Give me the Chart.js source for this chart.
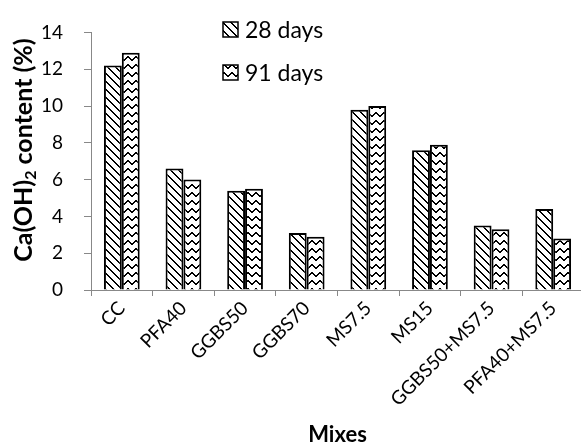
<!DOCTYPE html>
<html>
<head>
<meta charset="utf-8">
<script src="https://cdn.jsdelivr.net/npm/chart.js@4"></script>
<style>
  html, body { margin: 0; padding: 0; background: #fff; overflow: hidden; }
  #wrap { width: 588px; height: 448px; }
</style>
</head>
<body>
<div id="wrap"><canvas id="chOH" width="588" height="448"></canvas></div>
<script>
const mixes = ['CC', 'PFA40', 'GGBS50', 'GGBS70', 'MS7.5', 'MS15', 'GGBS50+MS7.5', 'PFA40+MS7.5'];
const days28 = [12.2, 6.6, 5.4, 3.1, 9.8, 7.6, 3.5, 4.4];
const days91 = [12.9, 6.0, 5.5, 2.9, 10.0, 7.9, 3.3, 2.8];
const seriesNames = ['28 days', '91 days'];
const yTicks = [0, 2, 4, 6, 8, 10, 12, 14];

const FONT = 'Lato, "Open Sans", sans-serif';

// 8x8 hatch tiles, black on white
function makePattern(isInk) {
    const c = document.createElement('canvas');
    c.width = 8; c.height = 8;
    const g = c.getContext('2d');
    g.fillStyle = '#fff';
    g.fillRect(0, 0, 8, 8);
    g.fillStyle = '#000';
    for (let y = 0; y < 8; y++) {
        for (let x = 0; x < 8; x++) {
            if (isInk(x, y)) g.fillRect(x, y, 1, 1);
        }
    }
    return g.createPattern(c, 'repeat');
}

// wide downward diagonal
const diagPattern = makePattern((x, y) => {
    const d = ((x - y) % 8 + 8) % 8;
    return d === 0 || d === 1;
});
// zig zag
const zigPattern = makePattern((x, y) => {
    const v = x < 4 ? x : 7 - x;
    return y === v || y === (v + 1) % 8;
});

// legend drawn inside the plot area
const boxLegend = {
    id: 'boxLegend',
    afterDraw(chart) {
        const ctx = chart.ctx;
        const items = chart.data.datasets;
        ctx.save();
        items.forEach((ds, i) => {
            const bx = 223, by = 22 + i * 43, s = 15;
            ctx.fillStyle = ds.backgroundColor;
            ctx.fillRect(bx, by, s, s);
            ctx.lineWidth = 1.5;
            ctx.strokeStyle = '#000';
            ctx.strokeRect(bx, by, s, s);
            ctx.fillStyle = '#000';
            ctx.font = '23px ' + FONT;
            ctx.textBaseline = 'middle';
            ctx.textAlign = 'left';
            ctx.fillText(ds.label, bx + 22, by + s / 2 + 1);
        });
        ctx.restore();
    }
};

// y axis title with subscript 2
const yTitle = {
    id: 'yTitle',
    afterDraw(chart) {
        const ctx = chart.ctx;
        const big = 'bold 25px ' + FONT;
        const small = 'bold 16px ' + FONT;
        const parts = [['Ca(OH)', big, 0], ['2', small, 7], [' content (%)', big, 0]];
        ctx.save();
        let total = 0;
        parts.forEach(p => { ctx.font = p[1]; total += ctx.measureText(p[0]).width; });
        ctx.translate(24, 150);
        ctx.rotate(-Math.PI / 2);
        ctx.fillStyle = '#000';
        ctx.textBaseline = 'middle';
        ctx.textAlign = 'left';
        let x = -total / 2;
        parts.forEach(p => {
            ctx.font = p[1];
            ctx.fillText(p[0], x, p[2]);
            x += ctx.measureText(p[0]).width;
        });
        ctx.restore();
    }
};

new Chart(document.getElementById('chOH'), {
    type: 'bar',
    data: {
        labels: mixes,
        datasets: [
            { label: seriesNames[0], data: days28, backgroundColor: diagPattern, borderColor: '#000', borderWidth: 2 },
            { label: seriesNames[1], data: days91, backgroundColor: zigPattern, borderColor: '#000', borderWidth: 2 }
        ]
    },
    options: {
        responsive: false,
        animation: false,
        layout: { padding: { left: 0, right: 4, top: 19, bottom: 0 } },
        datasets: { bar: { categoryPercentage: 0.58, barPercentage: 1.0 } },
        plugins: {
            legend: { display: false },
            tooltip: { enabled: false }
        },
        scales: {
            x: {
                grid: { display: true, drawOnChartArea: false, offset: true, tickLength: 6, color: '#888' },
                border: { color: '#888', width: 1 },
                ticks: { color: '#000', font: { size: 19, family: FONT }, maxRotation: 45, minRotation: 45, padding: 1 },
                title: { display: true, text: 'Mixes', color: '#000', font: { size: 22, weight: 'bold', family: FONT }, padding: { top: 0, bottom: 0 } },
                afterFit: s => { s.height = 158; }
            },
            y: {
                min: 0,
                max: 14,
                afterBuildTicks: s => { s.ticks = yTicks.map(v => ({ value: v })); },
                grid: { display: true, drawOnChartArea: false, tickLength: 7, color: '#888' },
                border: { color: '#888', width: 1 },
                ticks: { color: '#000', font: { size: 19, family: FONT }, padding: 21 },
                afterFit: s => { s.width = 91; }
            }
        }
    },
    plugins: [boxLegend, yTitle]
});
</script>
</body>
</html>
